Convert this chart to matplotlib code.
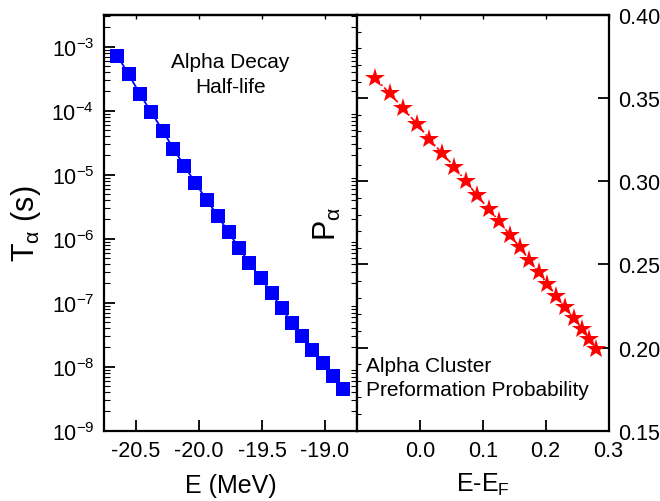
import matplotlib
matplotlib.use("Agg")
import matplotlib.pyplot as plt
from matplotlib.ticker import LogLocator, LogFormatterSciNotation, MultipleLocator, NullFormatter

plt.rcParams['font.family'] = ['Liberation Sans', 'DejaVu Sans']
plt.rcParams['mathtext.fontset'] = 'custom'
plt.rcParams['mathtext.rm'] = 'Liberation Sans'
plt.rcParams['mathtext.it'] = 'Liberation Sans'
plt.rcParams['mathtext.sf'] = 'Liberation Sans'
plt.rcParams['mathtext.default'] = 'regular'

# left panel: alpha decay half-life vs energy
energy = [-20.648, -20.558, -20.471, -20.378, -20.288, -20.204, -20.116, -20.029,
          -19.937, -19.852, -19.765, -19.683, -19.601, -19.508, -19.423, -19.344,
          -19.262, -19.180, -19.101, -19.018, -18.939, -18.859]
half_life = [7.2e-4, 3.7e-4, 1.85e-4, 9.4e-5, 4.9e-5, 2.55e-5, 1.38e-5, 7.4e-6,
             4.0e-6, 2.29e-6, 1.26e-6, 7.2e-7, 4.17e-7, 2.40e-7, 1.42e-7, 8.2e-8,
             4.8e-8, 2.99e-8, 1.85e-8, 1.14e-8, 7.1e-9, 4.5e-9]

# right panel: preformation probability vs E-EF
e_minus_ef = [-0.0716, -0.0483, -0.0268, -0.0047, 0.0148, 0.0347, 0.0548, 0.0726,
              0.0906, 0.1096, 0.1264, 0.1428, 0.1591, 0.1738, 0.1887, 0.2029,
              0.2171, 0.2307, 0.2444, 0.2582, 0.2686, 0.2802]
prob = [0.3621, 0.3531, 0.3439, 0.3346, 0.3256, 0.3170, 0.3088, 0.3002,
        0.2917, 0.2833, 0.2759, 0.2677, 0.2603, 0.2528, 0.2453, 0.2380,
        0.2312, 0.2242, 0.2176, 0.2112, 0.2052, 0.1991]

W, H = 660, 502
fig = plt.figure(figsize=(W / 100, H / 100), dpi=100)
left, right_div, right_end = 104, 357, 608.5
top, bottom = 16, 431.7
ax1 = fig.add_axes([left / W, (H - bottom) / H, (right_div - left) / W, (bottom - top) / H])
ax2 = fig.add_axes([right_div / W, (H - bottom) / H, (right_end - right_div) / W, (bottom - top) / H])

# left panel
ax1.plot(energy, half_life, color='blue', linewidth=1.3, marker='s', markersize=10,
         markeredgewidth=0)
ax1.set_yscale('log')
ax1.set_xlim(-20.754, -18.746)
ax1.set_ylim(1e-9, 3.13e-3)
ax1.xaxis.set_major_locator(MultipleLocator(0.5))
ax1.xaxis.set_major_formatter(plt.FuncFormatter(lambda v, p: f"{v:.1f}"))
ax1.yaxis.set_major_locator(LogLocator(base=10, numticks=20))
ax1.yaxis.set_major_formatter(LogFormatterSciNotation())
ax1.yaxis.set_minor_locator(LogLocator(base=10, subs=range(2, 10), numticks=20))
ax1.yaxis.set_minor_formatter(NullFormatter())
ax1.tick_params(axis='both', which='major', direction='in', length=8, width=1.3,
                labelsize=15.5, pad=7)
ax1.tick_params(axis='y', which='major', left=True, right=False)
ax1.tick_params(axis='y', which='minor', direction='in', length=4, width=0.8,
                left=True, right=True)
ax1.tick_params(axis='x', which='major', top=False)
ax1.set_xlabel('E (MeV)', fontsize=18, labelpad=8)
ax1.set_ylabel(r'T$_\alpha$ (s)', fontsize=22, labelpad=6)
ax1.text(0.5, 0.91, 'Alpha Decay\nHalf-life', transform=ax1.transAxes,
         ha='center', va='top', fontsize=15, linespacing=1.35)

# right panel
ax2.plot(e_minus_ef, prob, color='red', linewidth=1.2, linestyle=(0, (4, 1.5, 1, 1.5)),
         marker='*', markersize=15, markeredgewidth=0)
ax2.set_xlim(-0.1, 0.3)
ax2.set_ylim(0.15, 0.40)
ax2.xaxis.set_major_locator(MultipleLocator(0.1))
ax2.xaxis.set_major_formatter(plt.FuncFormatter(lambda v, p: f"{v:.1f}"))
ax2.yaxis.set_major_locator(MultipleLocator(0.05))
ax2.yaxis.set_minor_locator(MultipleLocator(0.01))
ax2.yaxis.set_major_formatter(plt.FuncFormatter(lambda v, p: f"{v:.2f}"))
ax2.yaxis.tick_right()
ax2.tick_params(axis='both', which='major', direction='in', length=8, width=1.3,
                labelsize=15.5, pad=7)
ax2.tick_params(axis='y', which='major', left=True, right=True, labelleft=False,
                labelright=True)
ax2.tick_params(axis='y', which='minor', direction='in', length=3, width=0.8,
                left=True, right=False)
ax2.set_xticks([0.0, 0.1, 0.2, 0.3])
ax2.set_xlabel(r'E-E$_\mathrm{F}$', fontsize=18, labelpad=7)
ax2.yaxis.set_label_position('left')
ax2.set_ylabel(r'P$_\alpha$', fontsize=22, labelpad=10)
ax2.text(0.035, 0.18, 'Alpha Cluster\nPreformation Probability', transform=ax2.transAxes,
         ha='left', va='top', fontsize=15, linespacing=1.35)

# small mirrored ticks along the top edge
for ax in (ax1, ax2):
    top_ax = ax.secondary_xaxis('top')
    top_ax.set_xticks(ax.get_xticks())
    top_ax.tick_params(direction='in', length=3, width=1.0, labeltop=False)
    top_ax.spines['top'].set_linewidth(1.6)
    for s in ax.spines.values():
        s.set_linewidth(1.6)

fig.savefig('out.png', dpi=100)
